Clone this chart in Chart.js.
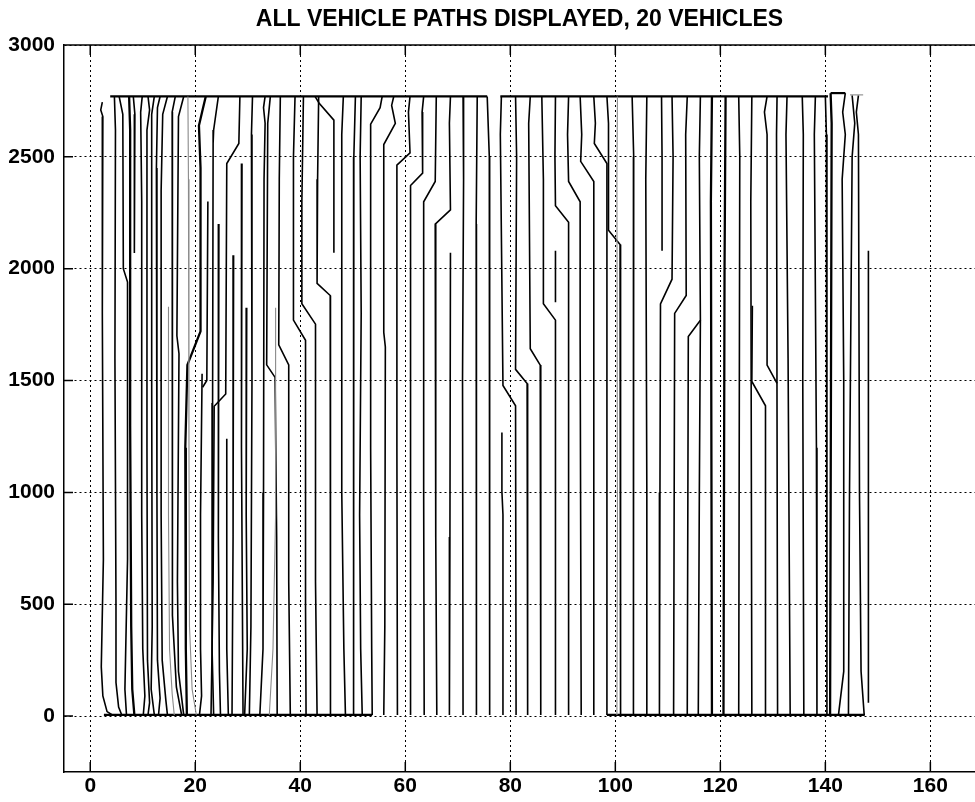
<!DOCTYPE html>
<html>
<head>
<meta charset="utf-8">
<script src="https://cdn.jsdelivr.net/npm/chart.js@4"></script>
<style>
html, body { margin: 0; padding: 0; background: #fff; }
</style>
</head>
<body>
<canvas id="myChart" width="975" height="802"></canvas>
<script>
// axis ticks
const xTicks = [0, 20, 40, 60, 80, 100, 120, 140, 160];
const yTicks = [0, 500, 1000, 1500, 2000, 2500, 3000];

// vehicle paths, flat lists of x,y pairs
const zoneA = [
  [2.3,2745, 2.0,2710, 2.4,2680, 2.3,1800, 2.5,700, 2.1,220, 2.4,90, 3.2,20, 4.2,5],
  [4.6,2770, 4.8,2620, 4.7,1600, 4.9,500, 4.9,150, 5.4,40, 6.0,5],
  [5.5,2770, 6.2,2690, 6.3,2000, 7.1,1940, 7.1,700, 6.6,120, 6.9,5],
  [8.2,2770, 8.5,2690, 8.4,2070],
  [9.9,2770, 9.6,2700, 9.8,2300, 9.8,900, 10.0,300, 10.4,90, 10.1,5],
  [11.0,2770, 11.3,2710, 10.8,2620, 10.8,1200, 10.9,250, 11.3,60, 11.0,5],
  [12.2,2770, 11.7,2690, 11.7,1500, 11.8,400, 11.6,120, 12.2,5],
  [13.3,2770, 12.8,2720, 12.6,2450, 12.7,1000, 12.8,250, 13.3,80, 13.0,5],
  [14.7,2770, 13.8,2690, 13.5,2350, 13.5,900, 13.7,250, 14.4,70, 14.7,5],
  [16.2,2770, 15.6,2700, 15.6,1600, 15.7,450, 16.4,130, 17.4,5],
  [17.8,2770, 16.8,2680, 16.5,1700, 16.9,1620, 16.6,600, 16.8,200, 17.8,5],
  [21.3,1530, 21.0,900, 21.0,300, 21.2,90, 20.8,5],
  [22.4,2300, 22.2,1500, 21.4,1470],
  [24.4,2770, 23.5,2620, 23.4,2560, 23.3,1400, 23.2,300, 23.5,5],
  [28.5,2770, 28.3,2560, 26.0,2470, 25.8,1440, 23.6,1385, 23.4,600, 23.0,5],
  [24.5,2200, 24.4,800, 24.6,200, 24.8,5],
  [26.0,1240, 26.0,300, 26.3,5],
  [27.3,2060, 27.2,800, 27.0,5],
  [28.9,2470, 28.8,1200, 29.1,5]
];
const zoneB = [
  [29.8,1825, 29.7,900, 29.9,300, 29.4,5],
  [30.9,2770, 30.7,2600, 30.8,1500, 30.6,400, 30.3,5],
  [33.3,2770, 33.0,2720, 33.3,2650, 33.1,2400, 33.0,1000, 32.9,300, 32.3,5],
  [34.3,2770, 33.8,2650, 33.6,1570, 35.2,1514, 35.5,800, 35.6,5],
  [36.2,2770, 36.0,2400, 35.9,1660, 37.8,1570, 37.8,600, 38.1,5],
  [39.0,2770, 38.7,2500, 38.7,1770, 41.0,1680, 41.0,500, 41.1,5],
  [40.6,2770, 40.3,2300, 40.3,1843, 42.9,1752, 42.9,600, 43.2,5],
  [42.8,2770, 43.6,2740, 46.4,2664, 46.4,2071],
  [43.5,2770, 43.3,2400, 43.2,1934, 45.7,1880, 45.7,500, 45.8,5],
  [48.2,2770, 47.9,2600, 47.9,1000, 48.3,300, 48.6,5],
  [50.5,2770, 50.2,2500, 50.2,800, 50.1,5],
  [51.6,2770, 51.4,2500, 51.6,1800, 51.3,900, 51.5,300, 51.8,5],
  [55.6,2770, 55.2,2720, 53.4,2646, 53.4,1200, 53.6,300, 53.7,5],
  [57.8,2770, 57.4,2730, 58.1,2650, 55.9,2555, 55.9,1715, 56.2,1650, 56.1,400, 55.9,5]
];
const zoneC = [
  [60.9,2770, 60.6,2700, 60.9,2518, 58.4,2463, 58.4,1200, 58.5,5],
  [63.5,2770, 63.2,2700, 63.3,2427, 61.0,2372, 61.0,5],
  [65.9,2770, 65.7,2390, 63.5,2299, 63.5,1000, 63.6,5],
  [68.6,2770, 68.4,2650, 68.6,2263, 65.7,2199, 65.8,800, 66.0,5],
  [68.6,2071, 68.5,800, 68.4,5],
  [71.0,2770, 71.1,2400, 70.9,1500, 71.0,5],
  [73.7,2770, 73.5,2200, 73.6,900, 73.5,5],
  [75.6,2770, 76.0,2500, 76.0,1600, 76.1,600, 76.1,5],
  [78.3,2770, 78.1,2600, 78.6,1478, 81.0,1387, 81.1,5],
  [78.4,1268, 78.4,1004, 78.6,900, 78.6,5],
  [81.0,2770, 81.2,2500, 81.0,1550, 83.2,1487, 83.3,5]
];
const zoneD = [
  [83.8,2770, 83.5,2650, 83.8,1642, 85.7,1569, 85.8,5],
  [86.0,2770, 86.3,2400, 86.3,1843, 88.6,1770, 88.6,5],
  [88.6,2770, 88.5,2500, 88.6,2281, 91.1,2208, 91.1,5],
  [88.6,2080, 88.6,1850],
  [91.1,2770, 90.9,2600, 91.1,2390, 93.3,2299, 93.3,1700, 93.5,5],
  [93.3,2770, 93.6,2600, 93.4,2480, 95.9,2390, 95.9,5],
  [95.9,2770, 96.2,2650, 96.0,2560, 98.4,2470, 98.4,5],
  [98.4,2770, 98.7,2650, 98.7,2172, 100.9,2108, 101.0,5],
  [103.2,2770, 103.5,2500, 103.4,1200, 103.5,5],
  [106.0,2770, 105.8,2400, 106.0,1000, 106.0,5],
  [108.8,2770, 108.9,2500, 108.9,2080],
  [110.8,2770, 111.0,2500, 110.8,1953, 108.6,1843, 108.5,1000, 108.4,5]
];
const zoneE = [
  [113.7,2770, 113.4,2600, 113.5,1880, 111.3,1800, 111.1,5],
  [116.2,2770, 116.0,2500, 116.2,1770, 113.9,1697, 113.7,5],
  [116.2,1770, 116.0,1000, 115.8,5],
  [123.5,2770, 123.7,2500, 123.5,5],
  [126.0,2770, 125.8,2300, 126.0,5],
  [126.1,1834, 126.0,1496, 128.6,1387, 128.6,5],
  [128.9,2770, 128.4,2700, 128.9,2600, 128.9,1569, 130.8,1487],
  [130.8,2770, 130.7,2600, 130.9,5],
  [132.7,2770, 132.5,2600, 132.9,1600, 133.3,5],
  [135.6,2770, 135.8,2600, 135.7,1500, 135.9,5],
  [138.1,2770, 137.9,2600, 138.3,1200, 138.4,5],
  [140.0,2770, 140.2,2600, 140.3,5],
  [143.8,2785, 143.3,2700, 143.8,2600, 143.2,2400, 143.5,1500, 143.5,200, 142.5,5],
  [145.1,2775, 145.6,2650, 145.1,2500, 144.6,1000, 144.4,5],
  [146.3,2775, 145.9,2700, 146.3,2600, 146.5,1000, 146.8,200, 147.4,5],
  [148.2,2080, 148.2,1000, 148.2,60]
];
// darker, heavier strokes
const heavyPaths = [
  [7.4,2770, 7.6,2620, 7.6,1300, 7.8,400, 8.0,120, 8.4,5],
  [22.0,2770, 21.3,2700, 20.7,2640, 21.0,2450, 21.0,1720, 18.5,1570, 18.1,1200, 18.2,300, 18.4,5],
  [118.4,2770, 118.2,2300, 118.4,5],
  [121.0,2770, 120.8,2000, 120.6,5],
  [141.0,2785, 141.2,2650, 140.9,5]
];
// faint grey strokes
const lightPaths = [
  [14.9,1830, 14.9,900, 15.1,300, 15.6,100, 16.0,5],
  [18.6,2770, 18.7,2400, 18.8,1200, 18.9,400, 19.4,120, 20.2,5],
  [35.3,1825, 35.3,900, 34.8,300, 34.1,5],
  [100.4,2770, 100.3,2400, 100.4,900, 100.3,5],
  [144.7,2777, 147.2,2777]
];
// turn-around legs along the ends of the field
const topLinks = [
  [3.8,2770, 75.6,2770],
  [78.1,2770, 140.5,2770],
  [141.0,2785, 143.8,2785]
];
const bottomLinks = [
  [2.6,5, 53.7,5],
  [98.4,5, 147.5,5]
];

function toPoints(flat) {
  let pts = [];
  for (let i = 0; i < flat.length; i += 2) pts.push({x: flat[i], y: flat[i + 1]});
  return pts;
}

let datasets = [];
function addGroup(group, color, width) {
  for (let p of group) {
    datasets.push({
      data: toPoints(p),
      borderColor: color,
      borderWidth: width,
      pointRadius: 0,
      tension: 0,
      fill: false
    });
  }
}
addGroup(lightPaths, '#8a8a8a', 1.1);
addGroup(zoneA, '#000', 1.6);
addGroup(zoneB, '#000', 1.6);
addGroup(zoneC, '#000', 1.6);
addGroup(zoneD, '#000', 1.6);
addGroup(zoneE, '#000', 1.6);
addGroup(heavyPaths, '#000', 2.3);
addGroup(topLinks, '#000', 2.2);
addGroup(bottomLinks, '#000', 2.2);

// matlab-like box with inward tick marks
const boxPlugin = {
  id: 'box',
  afterDraw(chart) {
    const {ctx, chartArea: a, scales: {x, y}} = chart;
    ctx.save();
    ctx.strokeStyle = '#000';
    ctx.lineWidth = 1.5;
    ctx.beginPath();
    ctx.moveTo(a.left, a.top);
    ctx.lineTo(a.right, a.top);
    for (let v of xTicks) {
      let px = x.getPixelForValue(v);
      ctx.moveTo(px, a.bottom);
      ctx.lineTo(px, a.bottom - 10);
      ctx.moveTo(px, a.top);
      ctx.lineTo(px, a.top + 10);
    }
    for (let v of yTicks) {
      let py = y.getPixelForValue(v);
      ctx.moveTo(a.left, py);
      ctx.lineTo(a.left + 9, py);
    }
    ctx.stroke();
    ctx.restore();
  }
};

const config = {
  type: 'line',
  data: {datasets: datasets},
  plugins: [boxPlugin],
  options: {
    responsive: false,
    animation: false,
    devicePixelRatio: 1,
    layout: {padding: 0},
    plugins: {
      legend: {display: false},
      tooltip: {enabled: false},
      title: {
        display: true,
        text: 'ALL VEHICLE PATHS DISPLAYED, 20 VEHICLES',
        color: '#000',
        fullSize: false,
        font: {family: 'Liberation Sans', size: 23, weight: 'bold'},
        padding: {top: 5.5, bottom: 11.9}
      }
    },
    scales: {
      x: {
        type: 'linear',
        min: -5,
        max: 168.5,
        afterBuildTicks(scale) { scale.ticks = xTicks.map(v => ({value: v})); },
        afterFit(scale) { scale.height = 30; },
        ticks: {color: '#000', padding: 2, font: {family: 'Liberation Sans', size: 21, weight: 'bold'}, callback: v => String(v)},
        grid: {color: '#000', lineWidth: 1, drawTicks: false},
        border: {display: true, color: '#000', width: 1.5, dash: [2, 3]}
      },
      y: {
        type: 'linear',
        min: -250,
        max: 3000,
        afterBuildTicks(scale) { scale.ticks = yTicks.map(v => ({value: v})); },
        afterFit(scale) { scale.width = 64; },
        ticks: {color: '#000', padding: 9, font: {family: 'Liberation Sans', size: 21, weight: 'bold'}, callback: v => String(v)},
        grid: {color: '#000', lineWidth: 1, drawTicks: false},
        border: {display: true, color: '#000', width: 1.5, dash: [2, 3]}
      }
    }
  }
};

const myChart = new Chart(document.getElementById('myChart'), config);
</script>
</body>
</html>
